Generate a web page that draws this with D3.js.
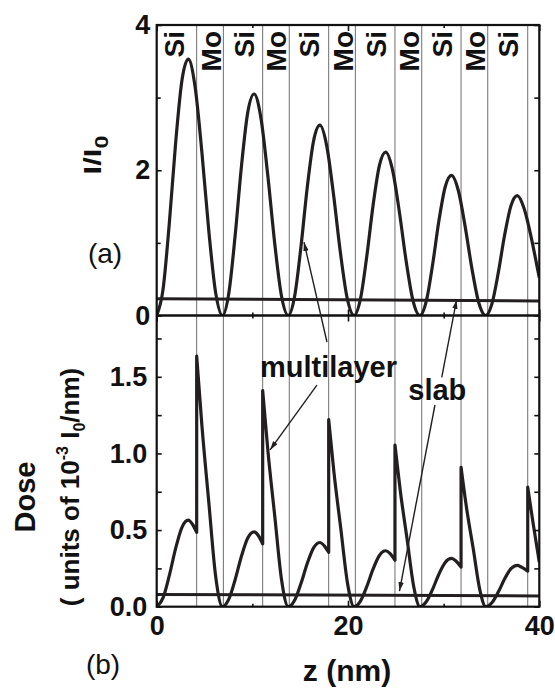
<!DOCTYPE html>
<html>
<head>
<meta charset="utf-8">
<script src="https://cdn.jsdelivr.net/npm/d3@7"></script>
<style>
  html, body { margin: 0; padding: 0; background: #fff; }
  svg { display: block; }
  text { font-family: "Liberation Sans", Arial, Helvetica, sans-serif; fill: #111; }
</style>
</head>
<body>
<svg id="chart" width="555" height="688"></svg>
<script>
// ---- data ----------------------------------------------------------------
// (a) normalised intensity I/I0 versus depth z (nm) in the Mo/Si multilayer
const depthI = [
  0, 0.66, 1.32, 1.98, 2.64, 3.30, 4.02, 4.73, 5.45, 6.16, 6.88,
  7.54, 8.20, 8.86, 9.52, 10.18, 10.90, 11.61, 12.33, 13.04, 13.76,
  14.42, 15.08, 15.74, 16.40, 17.06, 17.78, 18.49, 19.21, 19.92, 20.64,
  21.30, 21.96, 22.62, 23.28, 23.94, 24.66, 25.37, 26.09, 26.80, 27.52,
  28.18, 28.84, 29.50, 30.16, 30.82, 31.54, 32.25, 32.97, 33.68, 34.40,
  35.06, 35.72, 36.38, 37.04, 37.70, 38.42, 39.13, 39.85, 40
];
const intensity = [
  0, 0.356, 1.272, 2.377, 3.238, 3.53, 3.142, 2.239, 1.162, 0.316, 0,
  0.308, 1.099, 2.054, 2.797, 3.05, 2.715, 1.934, 1.004, 0.273, 0,
  0.264, 0.944, 1.765, 2.403, 2.62, 2.332, 1.662, 0.863, 0.235, 0,
  0.227, 0.811, 1.515, 2.064, 2.25, 2.003, 1.427, 0.741, 0.202, 0,
  0.195, 0.695, 1.300, 1.770, 1.93, 1.718, 1.224, 0.635, 0.173, 0,
  0.167, 0.595, 1.111, 1.513, 1.65, 1.469, 1.09, 0.62, 0.52
];
// homogeneous slab for comparison
const slabDepth = [0, 40];
const slabIntensity = [0.23, 0.20];

// (b) absorbed dose (units of 1e-3 I0/nm); a repeated depth marks a jump at a Si->Mo interface
const doseDepth = [
  0, 0.66, 1.32, 1.98, 2.64, 3.30, 3.74, 4.18,
  4.18, 4.73, 5.45, 6.16, 6.88, 7.54, 8.20, 8.86, 9.52, 10.18, 10.62, 11.08,
  11.08, 11.63, 12.35, 13.06, 13.76, 14.42, 15.08, 15.74, 16.40, 17.06, 17.50, 17.98,
  17.98, 18.53, 19.25, 19.96, 20.64, 21.30, 21.96, 22.62, 23.28, 23.94, 24.38, 24.91,
  24.91, 25.46, 26.18, 26.89, 27.52, 28.18, 28.84, 29.50, 30.16, 30.82, 31.26, 31.82,
  31.82, 32.37, 33.09, 33.80, 34.40, 35.06, 35.72, 36.38, 37.04, 37.70, 38.14, 38.79,
  38.79, 39.34, 40
];
const doseValue = [
  0, 0.057, 0.204, 0.380, 0.518, 0.565, 0.538, 0.485,
  1.635, 1.18, 0.68, 0.20, 0, 0.049, 0.176, 0.329, 0.448, 0.488, 0.465, 0.41,
  1.41, 1.015, 0.587, 0.172, 0, 0.042, 0.151, 0.282, 0.384, 0.419, 0.399, 0.355,
  1.22, 0.878, 0.508, 0.149, 0, 0.037, 0.131, 0.245, 0.334, 0.365, 0.348, 0.303,
  1.055, 0.76, 0.44, 0.125, 0, 0.032, 0.113, 0.212, 0.289, 0.315, 0.30, 0.258,
  0.91, 0.655, 0.379, 0.105, 0, 0.027, 0.097, 0.182, 0.248, 0.27, 0.258, 0.232,
  0.78, 0.55, 0.29
];
const slabDose = [0.08, 0.07];

// layer interfaces (nm) and layer names from the surface down
const layerBounds = [4.18, 6.97, 11.08, 13.86, 17.98, 20.77, 24.91, 27.71, 31.82, 34.61, 38.79];
const layerNames = ["Si", "Mo", "Si", "Mo", "Si", "Mo", "Si", "Mo", "Si", "Mo", "Si"];

// axis ticks
const zTicksMajor = [0, 20, 40];
const zTicksMinor = [10, 30];
const iTicksMajor = [0, 2, 4];
const iTicksMinor = [1, 3];
const doseTicksMajor = [0, 0.5, 1.0, 1.5];
const doseTicksMinor = [0.25, 0.75, 1.25, 1.75];

// ---- layout ----------------------------------------------------------------
const L = 156.7, R = 539.3, T = 25, M = 315.5, B = 606.7;
const INK = "#231f20";

const svg = d3.select("#chart");
const x = d3.scaleLinear().domain([0, 40]).range([L, R]);
const yI = d3.scaleLinear().domain([0, 4]).range([M, T]);
const yD = d3.scaleLinear().domain([0, 1.9]).range([B, M]);

const defs = svg.append("defs");
defs.append("clipPath").attr("id", "clipA")
  .append("rect").attr("x", L).attr("y", T).attr("width", R - L).attr("height", M - T);
defs.append("clipPath").attr("id", "clipB")
  .append("rect").attr("x", L).attr("y", M).attr("width", R - L).attr("height", B - M);
defs.append("marker").attr("id", "head")
  .attr("viewBox", "0 0 10 6").attr("refX", 10).attr("refY", 3)
  .attr("markerWidth", 9).attr("markerHeight", 5.5)
  .attr("markerUnits", "userSpaceOnUse").attr("orient", "auto")
  .append("path").attr("d", "M0,0 L10,3 L0,6 Z").attr("fill", INK);

// layer interfaces as thin grey verticals through both panels
svg.append("g").selectAll("line").data(layerBounds).join("line")
  .attr("x1", d => x(d)).attr("x2", d => x(d))
  .attr("y1", T).attr("y2", B)
  .attr("stroke", "#6e6e6e").attr("stroke-width", 1);

// layer names, rotated, centred in each layer
const edges = [0, ...layerBounds, 40];
svg.append("g").selectAll("text").data(layerNames).join("text")
  .attr("transform", (d, i) => `translate(${x((edges[i] + edges[i + 1]) / 2) + 10.5 - (i === 0 ? 3.5 : 0)},${T + 6}) rotate(-90)`)
  .attr("text-anchor", "end")
  .attr("font-weight", "bold").attr("font-size", 28)
  .text(d => d);

// ---- curves ----------------------------------------------------------------
const gA = svg.append("g").attr("clip-path", "url(#clipA)");
const gB = svg.append("g").attr("clip-path", "url(#clipB)");

const lineI = d3.line().x(d => x(d[0])).y(d => yI(d[1])).curve(d3.curveMonotoneX);
gA.append("path")
  .attr("d", lineI(depthI.map((z, i) => [z, intensity[i]])))
  .attr("fill", "none").attr("stroke", INK).attr("stroke-width", 3.2).attr("stroke-linejoin", "round");
gA.append("path")
  .attr("d", d3.line().x(d => x(d[0])).y(d => yI(d[1]))(slabDepth.map((z, i) => [z, slabIntensity[i]])))
  .attr("fill", "none").attr("stroke", INK).attr("stroke-width", 3);

// dose: smooth within a layer stack, vertical step at each Si->Mo interface
const segs = [];
let cur = [];
doseDepth.forEach((z, i) => {
  if (i > 0 && z === doseDepth[i - 1]) { segs.push(cur); cur = []; }
  cur.push([z, doseValue[i]]);
});
segs.push(cur);
const lineD = d3.line().x(d => x(d[0])).y(d => yD(d[1])).curve(d3.curveMonotoneX);
const doseD = segs.map((s, i) => { const p = lineD(s); return i ? "L" + p.slice(1) : p; }).join("");
gB.append("path").attr("d", doseD)
  .attr("fill", "none").attr("stroke", INK).attr("stroke-width", 3.2).attr("stroke-linejoin", "round");
gB.append("path")
  .attr("d", d3.line().x(d => x(d[0])).y(d => yD(d[1]))(slabDepth.map((z, i) => [z, slabDose[i]])))
  .attr("fill", "none").attr("stroke", INK).attr("stroke-width", 3);

// ---- frames and ticks -------------------------------------------------------
svg.append("rect").attr("x", L).attr("y", T).attr("width", R - L).attr("height", B - T)
  .attr("fill", "none").attr("stroke", "#111").attr("stroke-width", 2.2);
svg.append("line").attr("x1", L).attr("x2", R).attr("y1", M).attr("y2", M)
  .attr("stroke", "#111").attr("stroke-width", 2.6);

function ticks(gen, scale, vals, size, at, fmt, pad) {
  const a = gen(scale).tickValues(vals).tickSizeInner(size).tickSizeOuter(0)
    .tickPadding(pad || 3).tickFormat(fmt || (() => ""));
  const g = svg.append("g").attr("transform", at).call(a);
  g.select(".domain").remove();
  g.selectAll("line").attr("stroke", "#111").attr("stroke-width", 1.6);
  g.selectAll("text").attr("font-family", "Liberation Sans, Arial, sans-serif")
    .attr("font-weight", "bold").attr("font-size", 27).attr("fill", "#111");
  return g;
}
// panel (a) y ticks
ticks(d3.axisLeft, yI, iTicksMajor, -5, `translate(${L},0)`, d3.format("d"), 6.5);
ticks(d3.axisLeft, yI, iTicksMinor, -4, `translate(${L},0)`);
ticks(d3.axisRight, yI, [...iTicksMajor, ...iTicksMinor], -5, `translate(${R},0)`);
// panel (b) y ticks
ticks(d3.axisLeft, yD, doseTicksMajor, -5, `translate(${L},0)`, d3.format(".1f"), 9.5);
ticks(d3.axisLeft, yD, doseTicksMinor, -5, `translate(${L},0)`);
ticks(d3.axisRight, yD, [...doseTicksMajor, ...doseTicksMinor], -5, `translate(${R},0)`);
// z ticks on every horizontal frame line
const xb = ticks(d3.axisBottom, x, zTicksMajor, -6, `translate(0,${B})`, d3.format("d"), 9);
xb.selectAll("text").attr("dy", "0.72em");
ticks(d3.axisBottom, x, zTicksMinor, -3, `translate(0,${B})`);
ticks(d3.axisTop, x, zTicksMajor, -6, `translate(0,${T})`);
ticks(d3.axisTop, x, zTicksMinor, -3, `translate(0,${T})`);
ticks(d3.axisBottom, x, zTicksMajor, -6, `translate(0,${M})`);
ticks(d3.axisBottom, x, zTicksMinor, -3, `translate(0,${M})`);
ticks(d3.axisTop, x, zTicksMajor, -6, `translate(0,${M})`);
ticks(d3.axisTop, x, zTicksMinor, -3, `translate(0,${M})`);

// ---- axis titles and panel tags ---------------------------------------------
const tI = svg.append("text").attr("transform", "translate(101,155) rotate(-90) scale(1.3,1)")
  .attr("text-anchor", "middle").attr("font-weight", "bold").attr("font-size", 24);
tI.append("tspan").text("I/I");
tI.append("tspan").attr("font-size", 18).attr("dy", 7).text("0");

svg.append("text").attr("transform", "translate(35,497) rotate(-90)")
  .attr("text-anchor", "middle").attr("font-weight", "bold").attr("font-size", 29)
  .text("Dose");
const tU = svg.append("text").attr("transform", "translate(79,487) rotate(-90)")
  .attr("text-anchor", "middle").attr("font-weight", "bold").attr("font-size", 26);
tU.append("tspan").text("( units of 10");
tU.append("tspan").attr("font-size", 16).attr("dy", -11).text("-3");
tU.append("tspan").attr("dy", 11).text(" I");
tU.append("tspan").attr("font-size", 16).attr("dy", 6).text("0");
tU.append("tspan").attr("dy", -6).text("/nm)");

svg.append("text").attr("x", (L + R) / 2 - 1).attr("y", 681)
  .attr("text-anchor", "middle").attr("font-weight", "bold").attr("font-size", 30)
  .text("z (nm)");

svg.append("text").attr("x", 105).attr("y", 263).attr("text-anchor", "middle")
  .attr("font-size", 28).attr("fill", "#333").text("(a)");
svg.append("text").attr("x", 103).attr("y", 674).attr("text-anchor", "middle")
  .attr("font-size", 28).attr("fill", "#333").text("(b)");

// ---- annotations (endpoints in data units of the panel they sit in) ---------
const P = (z, v, panel) => [x(z), panel === "a" ? yI(v) : yD(v)];
const arrows = [
  [P(17.8, 1.727, "b"), P(15.4, 1.01, "a")],
  [P(16.75, 1.446, "b"), P(11.85, 1.023, "b")],
  [P(29.8, 1.497, "b"), P(31.35, 0.215, "a")],
  [P(29.09, 1.316, "b"), P(25.38, 0.102, "b")]
];
svg.append("g").selectAll("line").data(arrows).join("line")
  .attr("x1", d => d[0][0]).attr("y1", d => d[0][1])
  .attr("x2", d => d[1][0]).attr("y2", d => d[1][1])
  .attr("stroke", INK).attr("stroke-width", 1.4)
  .attr("marker-end", "url(#head)");

const mlPos = P(10.8, 1.498, "b");
svg.append("text").attr("x", mlPos[0]).attr("y", mlPos[1])
  .attr("font-weight", "bold").attr("font-size", 29).text("multilayer");
const slPos = P(26.3, 1.348, "b");
svg.append("text").attr("x", slPos[0]).attr("y", slPos[1])
  .attr("font-weight", "bold").attr("font-size", 29).text("slab");
</script>
</body>
</html>
